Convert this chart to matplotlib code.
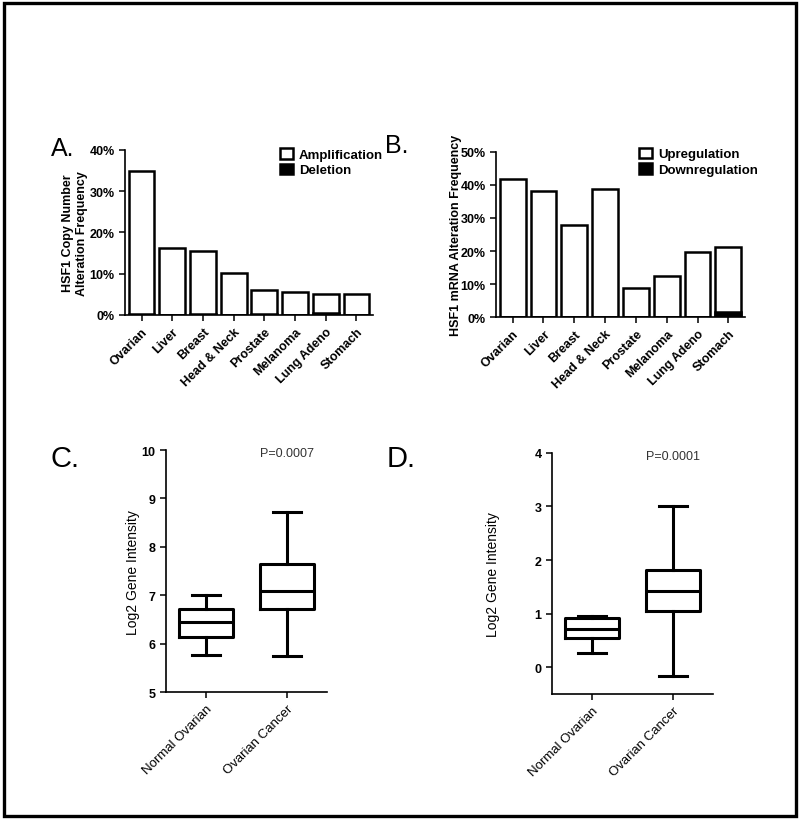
import matplotlib
matplotlib.use("Agg")
import matplotlib.pyplot as plt
from matplotlib.patches import Rectangle

plt.rcParams['font.family'] = ['Liberation Sans', 'DejaVu Sans']

# ---------------------------------------------------
# data
# ---------------------------------------------------
cancers = ["Ovarian", "Liver", "Breast", "Head & Neck", "Prostate",
           "Melanoma", "Lung Adeno", "Stomach"]

# panel A: copy number alteration (%)
amplification = [34.8, 16.1, 15.4, 10.2, 6.1, 5.5, 5.2, 5.2]
deletion = [0.3, 0.0, 0.3, 0.0, 0.3, 0.0, 0.5, 0.0]

# panel B: mRNA alteration (%)
upregulation = [41.8, 38.2, 28.0, 38.7, 8.9, 12.5, 19.6, 21.2]
downregulation = [0.0, 0.0, 0.0, 0.0, 0.0, 0.0, 0.0, 1.7]

groups = ["Normal Ovarian", "Ovarian Cancer"]
# panel C box stats: whislo, q1, med, q3, whishi
box_c_normal = [5.77, 6.15, 6.46, 6.72, 7.01]
box_c_cancer = [5.74, 6.72, 7.09, 7.64, 8.72]
# panel D
box_d_normal = [0.26, 0.54, 0.72, 0.93, 0.96]
box_d_cancer = [-0.16, 1.05, 1.43, 1.82, 3.00]

pval_c = "P=0.0007"
pval_d = "P=0.0001"

# ---------------------------------------------------
# figure
# ---------------------------------------------------
fig = plt.figure(figsize=(8, 8.2), dpi=100)
W, H = 800.0, 820.0

def axes_px(left, top, right, bottom):
    return fig.add_axes([left / W, 1 - bottom / H, (right - left) / W, (bottom - top) / H])

def style(ax):
    ax.spines['top'].set_visible(False)
    ax.spines['right'].set_visible(False)
    for s in ('left', 'bottom'):
        ax.spines[s].set_linewidth(1.2)
    ax.tick_params(direction='out', length=4, width=1.1)


def bar_panel(ax, main, minor, labels, ymax, ylabel):
    x = range(len(cancers))
    ax.bar(x, main, width=0.84, color='white', edgecolor='black', linewidth=1.8,
           label=labels[0])
    ax.bar(x, minor, width=0.84, color='black', edgecolor='black', linewidth=1.8,
           label=labels[1])
    ax.set_xlim(-0.54, 7.54)
    ax.set_ylim(0, ymax)
    ax.set_yticks(range(0, ymax + 1, 10))
    ax.set_yticklabels([f"{v}%" for v in range(0, ymax + 1, 10)],
                       fontsize=9, fontweight='bold')
    ax.set_xticks(list(x))
    ax.set_xticklabels(cancers, rotation=45, ha='right', rotation_mode='anchor',
                       fontsize=9, fontweight='bold')
    ax.set_ylabel(ylabel, fontsize=9, fontweight='bold')
    style(ax)


axA = axes_px(125, 150.7, 373, 316)
bar_panel(axA, amplification, deletion, ["Amplification", "Deletion"], 40,
          "HSF1 Copy Number\nAlteration Frequency")
axA.legend(loc='upper left', bbox_to_anchor=(0.625, 1.01), frameon=False,
           borderaxespad=0, borderpad=0, handlelength=1.0, handleheight=0.85,
           handletextpad=0.45, labelspacing=0.2,
           prop={'size': 9.5, 'weight': 'bold'})
axA.yaxis.set_label_coords(-0.15, 0.5)

axB = axes_px(496, 152.7, 745, 318.3)
bar_panel(axB, upregulation, downregulation, ["Upregulation", "Downregulation"], 50,
          "HSF1 mRNA Alteration Frequency")
axB.legend(loc='upper left', bbox_to_anchor=(0.575, 1.025), frameon=False,
           borderaxespad=0, borderpad=0, handlelength=1.0, handleheight=0.85,
           handletextpad=0.45, labelspacing=0.2,
           prop={'size': 9.5, 'weight': 'bold'})
axB.yaxis.set_label_coords(-0.135, 0.5)


def box_panel(ax, normal, cancer, ylim, yticks, pval, pval_y, label_x):
    stats = []
    for name, v in zip(groups, [normal, cancer]):
        stats.append(dict(label=name, whislo=v[0], q1=v[1], med=v[2],
                          q3=v[3], whishi=v[4], fliers=[]))
    lp = dict(color='black', linewidth=2.2)
    ax.bxp(stats, positions=[0, 1], widths=0.667, capwidths=0.35,
           showfliers=False, boxprops=lp, whiskerprops=lp, capprops=lp,
           medianprops=lp)
    ax.set_xlim(-0.5, 1.5)
    ax.set_ylim(*ylim)
    ax.set_yticks(yticks)
    ax.set_yticklabels([str(t) for t in yticks], fontsize=9, fontweight='bold')
    ax.set_xticks([0, 1])
    ax.set_xticklabels(groups, rotation=45, ha='right', rotation_mode='anchor',
                       fontsize=9.5)
    ax.set_ylabel("Log2 Gene Intensity", fontsize=10)
    ax.yaxis.set_label_coords(label_x, 0.5)
    ax.text(1, pval_y, pval, ha='center', va='center', fontsize=9, color='#333333')
    style(ax)


axC = axes_px(166, 451, 327, 693.3)
box_panel(axC, box_c_normal, box_c_cancer, (5, 10), [5, 6, 7, 8, 9, 10],
          pval_c, 9.93, -0.16)

axD = axes_px(552, 453.7, 713, 695.3)
box_panel(axD, box_d_normal, box_d_cancer, (-0.5, 4), [0, 1, 2, 3, 4],
          pval_d, 3.93, -0.32)

# panel letters
fig.text(51 / W, 1 - 156 / H, "A.", fontsize=18, va='baseline')
fig.text(385 / W, 1 - 153 / H, "B.", fontsize=18, va='baseline')
fig.text(50 / W, 1 - 467 / H, "C.", fontsize=21, va='baseline')
fig.text(387 / W, 1 - 467 / H, "D.", fontsize=21, va='baseline')

# outer frame
fig.patches.append(Rectangle((3.5 / W, 3.5 / H), 1 - 7.5 / W, 1 - 7.5 / H,
                             transform=fig.transFigure, fill=False,
                             edgecolor='black', linewidth=2.4))

fig.savefig("out.png", dpi=100)
